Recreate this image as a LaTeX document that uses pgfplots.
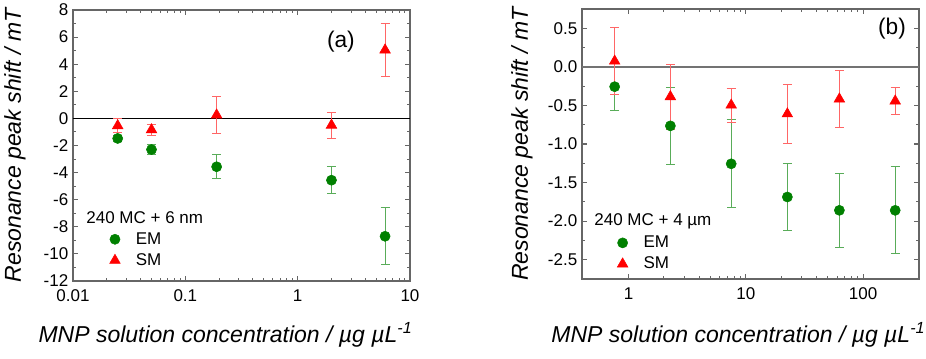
\documentclass[border=0pt]{standalone}
\usepackage{fontspec}
\setmainfont{Liberation Sans}
\usepackage{pgfplots}
\usepackage{pgfplotstable}
\pgfplotsset{compat=1.18}

\definecolor{emgreen}{RGB}{0,128,0}
\definecolor{smred}{RGB}{255,0,0}

% panel (a): 240 MC + 6 nm
\pgfplotstableread{
x     y      e
0.025 -1.48  0.25
0.05  -2.30  0.40
0.19  -3.57  0.90
2.0   -4.56  1.00
6.0   -8.70  2.10
}\emA
\pgfplotstableread{
x     y      e
0.025 -0.54  0.50
0.05  -0.84  0.40
0.19   0.25  1.40
2.0   -0.50  0.95
6.0    5.05  1.95
}\smA
% panel (b): 240 MC + 4 um
\pgfplotstableread{
x     y       e
0.76  -0.257  0.31
2.27  -0.765  0.495
7.5   -1.257  0.57
22.6  -1.687  0.44
62.8  -1.86   0.48
188   -1.86   0.565
}\emB
\pgfplotstableread{
x     y       e
0.76   0.074  0.43
2.27  -0.387  0.42
7.5   -0.496  0.22
22.6  -0.61   0.385
62.8  -0.417  0.37
188   -0.443  0.18
}\smB

\pgfplotsset{
  legend image code/.code={\path[draw=none] (0cm,0cm) (0.78cm,0cm);
    \draw[#1, only marks] plot coordinates {(0.3cm,0cm)};},
  every axis/.append style={
    scale only axis, width=252.75pt,
    axis line style={black!60, line width=1pt},
    every tick/.append style={black!60, line width=0.8pt},
    tick align=inside, major tick length=3.75pt, minor tick length=2.25pt,
    ticklabel style={font=\fontsize{12.75}{15}\selectfont},
    xticklabel style={yshift=-3pt},
    /pgf/number format/assume math mode=true,
    label style={font=\fontsize{17.25}{20}\selectfont\itshape},
    legend style={draw=none, fill=none, inner sep=0pt, row sep=1.5pt,
      font=\fontsize{12.75}{15}\selectfont, cells={anchor=west}},
  },
}

\begin{document}
\begin{tikzpicture}
\path[use as bounding box] (-54.75pt,-58.5pt) rectangle (639.75pt,210.75pt);

\begin{axis}[at={(0pt,0pt)}, anchor=south west,
  xmode=log, height=203.25pt,
  xmin=0.01, xmax=10, xtick={0.01,0.1,1,10}, xticklabels={0.01,0.1,1,10},
  ymin=-12, ymax=8, ytick={-12,-10,...,8}, minor y tick num=1,
  ylabel={Resonance peak shift / mT},
  xlabel={MNP solution concentration / µg µL\textsuperscript{-1}},
  xlabel style={at={(axis description cs:0.4525,-0.199)}, anchor=center},
  ylabel style={at={(axis description cs:-0.172,0.5)}, anchor=center},
  legend style={at={(rel axis cs:0.09,0.19)}, anchor=north west},
]
\addplot[black, line width=0.75pt, forget plot] coordinates {(0.01,0) (10,0)};
\addplot[only marks, mark=*, emgreen, mark size=3.8pt,
  error bars/.cd, y dir=both, y explicit,
  error bar style={emgreen!65, line width=0.75pt},
  error mark options={rotate=90, emgreen!65, mark size=3.4pt, line width=0.75pt}]
  table[x=x, y=y, y error=e] {\emA};
\addlegendentry{EM}
\addplot[only marks, mark=triangle*, smred, mark size=4.6pt,
  error bars/.cd, y dir=both, y explicit,
  error bar style={smred!60, line width=0.75pt},
  error mark options={rotate=90, smred!60, mark size=3.4pt, line width=0.75pt}]
  table[x=x, y=y, y error=e] {\smA};
\addlegendentry{SM}
\node[anchor=west, inner sep=0pt, font=\fontsize{12.75}{15}\selectfont]
  at (rel axis cs:0.039,0.232) {240 MC + 6 nm};
\node[font=\fontsize{17}{20}\selectfont] at (rel axis cs:0.795,0.882) {(a)};
\end{axis}

\begin{axis}[at={(381.75pt,1.5pt)}, anchor=south west,
  xmode=log, height=202.5pt,
  xmin=0.4, xmax=300, xtick={1,10,100}, xticklabels={1,10,100},
  ymin=-2.75, ymax=0.75, ytick={-2.5,-2,...,0.5}, minor y tick num=1,
  yticklabel style={/pgf/number format/.cd, fixed, fixed zerofill, precision=1},
  ylabel={Resonance peak shift / mT},
  xlabel={MNP solution concentration / µg µL\textsuperscript{-1}},
  xlabel style={at={(axis description cs:0.464,-0.207)}, anchor=center},
  ylabel style={at={(axis description cs:-0.178,0.5)}, anchor=center},
  legend style={at={(rel axis cs:0.086,0.17)}, anchor=north west},
]
\addplot[black!55, line width=1.5pt, forget plot] coordinates {(0.4,0) (300,0)};
\addplot[only marks, mark=*, emgreen, mark size=3.8pt,
  error bars/.cd, y dir=both, y explicit,
  error bar style={emgreen!65, line width=0.75pt},
  error mark options={rotate=90, emgreen!65, mark size=3.4pt, line width=0.75pt}]
  table[x=x, y=y, y error=e] {\emB};
\addlegendentry{EM}
\addplot[only marks, mark=triangle*, smred, mark size=4.6pt,
  error bars/.cd, y dir=both, y explicit,
  error bar style={smred!60, line width=0.75pt},
  error mark options={rotate=90, smred!60, mark size=3.4pt, line width=0.75pt}]
  table[x=x, y=y, y error=e] {\smB};
\addlegendentry{SM}
\node[anchor=west, inner sep=0pt, font=\fontsize{12.75}{15}\selectfont]
  at (rel axis cs:0.036,0.215) {240 MC + 4 µm};
\node[font=\fontsize{17}{20}\selectfont] at (rel axis cs:0.92,0.926) {(b)};
\end{axis}
\end{tikzpicture}
\end{document}
